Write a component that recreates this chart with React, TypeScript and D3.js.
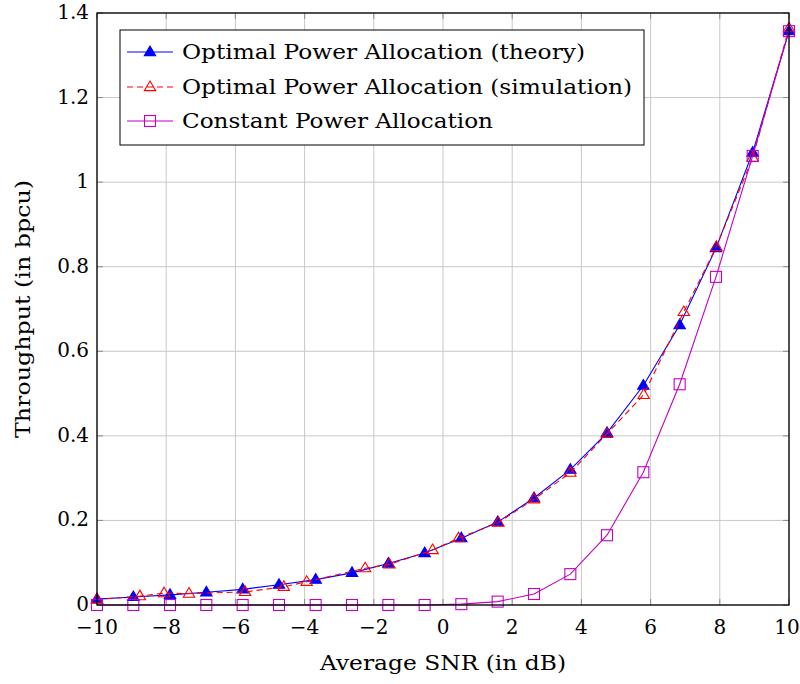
import * as d3 from "d3";

// SNR grid for theory / constant power (20 evenly spaced points)
const snrTheory = [
  -10, -8.95, -7.89, -6.84, -5.79, -4.74, -3.68, -2.63, -1.58, -0.53,
  0.53, 1.58, 2.63, 3.68, 4.74, 5.79, 6.84, 7.89, 8.95, 10,
];
const theory = [
  0.014, 0.019, 0.024, 0.03, 0.037, 0.048, 0.06, 0.076, 0.098, 0.123,
  0.158, 0.196, 0.253, 0.32, 0.407, 0.519, 0.662, 0.844, 1.07, 1.357,
];
const constant = [
  0, 0, 0, 0, 0, 0, 0, 0, 0, 0,
  0.002, 0.008, 0.026, 0.073, 0.165, 0.314, 0.522, 0.776, 1.062, 1.357,
];

// simulation points sit at their own SNR values
const snrSim = [
  -10, -8.76, -8.06, -7.34, -5.72, -4.6, -3.94, -2.25, -1.55, -0.3,
  0.45, 1.6, 2.63, 3.68, 4.74, 5.8, 6.96, 7.9, 8.95, 10,
];
const simulation = [
  0.013, 0.021, 0.028, 0.027, 0.031, 0.043, 0.055, 0.087, 0.096, 0.13,
  0.158, 0.195, 0.25, 0.313, 0.405, 0.497, 0.693, 0.847, 1.058, 1.364,
];

const xTicks = [-10, -8, -6, -4, -2, 0, 2, 4, 6, 8, 10];
const yTicks = [0, 0.2, 0.4, 0.6, 0.8, 1, 1.2, 1.4];

const legendLabels = [
  "Optimal Power Allocation (theory)",
  "Optimal Power Allocation (simulation)",
  "Constant Power Allocation",
];
// rendered widths of the legend entries in the reference
const legendWidths = [403, 450, 311];

const W = 800;
const H = 684;
const m = { left: 97, right: 11, top: 13, bottom: 79 };
const FONT = "'DejaVu Serif', serif";

const BLUE = "#0000ff";
const RED = "#ff0000";
const MAG = "#c400c4";

function fmtX(v: number) {
  return v < 0 ? "\u2212" + Math.abs(v) : String(v);
}

function Marker({ kind, x, y }: { kind: string; x: number; y: number }) {
  if (kind === "tri" || kind === "otri") {
    const r = 6;
    const c = kind === "tri" ? BLUE : RED;
    return (
      <path
        d={`M${x},${y - r} L${x + r * 0.95},${y + r * 0.6} L${x - r * 0.95},${y + r * 0.6}Z`}
        fill={kind === "tri" ? BLUE : "none"}
        stroke={c}
        strokeWidth={1.1}
      />
    );
  }
  return (
    <rect x={x - 5.5} y={y - 5.5} width={11} height={11} fill="none" stroke={MAG} strokeWidth={1.1} />
  );
}

export default function App() {
  const x = d3.scaleLinear().domain([-10, 10]).range([m.left, W - m.right]);
  const y = d3.scaleLinear().domain([0, 1.4]).range([H - m.bottom, m.top]);
  const [x0, x1] = x.range();
  const [y0, y1] = y.range();

  const line = d3
    .line<[number, number]>()
    .x((d) => x(d[0]))
    .y((d) => y(d[1]));

  const thPts = snrTheory.map((s, i) => [s, theory[i]] as [number, number]);
  const simPts = snrSim.map((s, i) => [s, simulation[i]] as [number, number]);
  const cpPts = snrTheory.map((s, i) => [s, constant[i]] as [number, number]);

  const series = [
    { pts: thPts, color: BLUE, dash: undefined as string | undefined, kind: "tri" },
    { pts: simPts, color: RED, dash: "6 4", kind: "otri" },
    { pts: cpPts, color: MAG, dash: undefined, kind: "sq" },
  ];

  const lg = { x: 120, y: 30, w: 524, h: 115 };
  const rowY = [52, 87, 121];

  return (
    <svg
      width={W}
      height={H}
      style={{ position: "absolute", left: 0, top: 0, background: "#fff" }}
      fontFamily={FONT}
    >
      {/* grid */}
      {xTicks.map((t) => (
        <line key={"gx" + t} x1={x(t)} x2={x(t)} y1={y1} y2={y0} stroke="#c8c8c8" strokeWidth={1} />
      ))}
      {yTicks.map((t) => (
        <line key={"gy" + t} x1={x0} x2={x1} y1={y(t)} y2={y(t)} stroke="#c8c8c8" strokeWidth={1} />
      ))}
      {/* ticks inside on all sides */}
      {xTicks.map((t) => (
        <g key={"tx" + t} stroke="#8c8c8c" strokeWidth={1}>
          <line x1={x(t)} x2={x(t)} y1={y0} y2={y0 - 6} />
          <line x1={x(t)} x2={x(t)} y1={y1} y2={y1 + 6} />
        </g>
      ))}
      {yTicks.map((t) => (
        <g key={"ty" + t} stroke="#8c8c8c" strokeWidth={1}>
          <line x1={x0} x2={x0 + 6} y1={y(t)} y2={y(t)} />
          <line x1={x1} x2={x1 - 6} y1={y(t)} y2={y(t)} />
        </g>
      ))}

      {/* series */}
      {series.map((s, i) => (
        <g key={"s" + i}>
          <path d={line(s.pts) || ""} fill="none" stroke={s.color} strokeWidth={1.1} strokeDasharray={s.dash} />
          {s.pts.map((p, j) => (
            <Marker key={j} kind={s.kind} x={x(p[0])} y={y(p[1])} />
          ))}
        </g>
      ))}

      {/* frame */}
      <rect x={x0} y={y1} width={x1 - x0} height={y0 - y1} fill="none" stroke="#000" strokeWidth={1.3} />

      {/* tick labels */}
      {xTicks.map((t) => (
        <text
          key={"lx" + t}
          x={t === 10 ? x(t) - 2 : x(t)}
          y={y0 + 29}
          textAnchor="middle"
          fontSize={20}
          fill="#000"
        >
          {fmtX(t)}
        </text>
      ))}
      {yTicks.map((t) => (
        <text key={"ly" + t} x={x0 - 8} y={y(t) + 6} textAnchor="end" fontSize={20} fill="#000">
          {String(t)}
        </text>
      ))}

      {/* axis titles */}
      <text
        x={(x0 + x1) / 2}
        y={670}
        textAnchor="middle"
        fontSize={21}
        fill="#000"
        textLength={246}
        lengthAdjust="spacingAndGlyphs"
      >
        Average SNR (in dB)
      </text>
      <text
        transform={`translate(30, ${(y0 + y1) / 2}) rotate(-90)`}
        textAnchor="middle"
        fontSize={21}
        fill="#000"
        textLength={258}
        lengthAdjust="spacingAndGlyphs"
      >
        Throughput (in bpcu)
      </text>

      {/* legend */}
      <rect x={lg.x} y={lg.y} width={lg.w} height={lg.h} fill="#fff" stroke="#000" strokeWidth={1} />
      {series.map((s, i) => (
        <g key={"lg" + i}>
          <line x1={127} x2={173} y1={rowY[i]} y2={rowY[i]} stroke={s.color} strokeWidth={1.1} strokeDasharray={s.dash} />
          <Marker kind={s.kind} x={150} y={rowY[i]} />
          <text
            x={182}
            y={rowY[i] + 7}
            fontSize={21}
            fill="#000"
            textLength={legendWidths[i]}
            lengthAdjust="spacingAndGlyphs"
          >
            {legendLabels[i]}
          </text>
        </g>
      ))}
    </svg>
  );
}
